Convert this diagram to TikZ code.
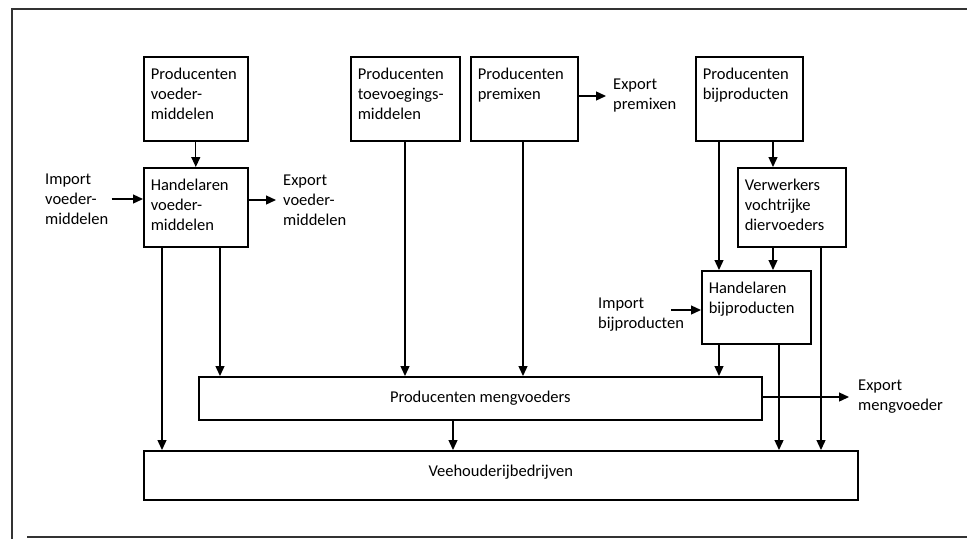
\documentclass[tikz,border=0pt]{standalone}
\usepackage{fontspec}
\setmainfont{Carlito}
\usetikzlibrary{arrows.meta}
\begin{document}
\begin{tikzpicture}[x=1pt,y=-1pt,
    font=\fontsize{16.5}{20}\selectfont,
    unit/.style={draw, line width=1.6pt, anchor=north west, align=left,
      inner xsep=7pt, inner ysep=0pt, text height=23pt},
    bar/.style={draw, line width=1.6pt, anchor=north west, inner sep=0pt},
    loose/.style={align=left, inner sep=0pt, anchor=west},
    flow/.style={-{Triangle[width=9pt,length=10pt]}, line width=1.3pt}]
  \useasboundingbox (0,0) rectangle (967,539);
  % frame
  \draw[line width=1.3pt, black!80] (967,9) -- (12,9) -- (12,539);
  \draw[line width=1.3pt, black!80] (27,537) -- (967,537);
  % boxes
  \node[unit, text width=90pt, text depth=61pt] (pv) at (143,56) {Producenten\\voeder-\\middelen};
  \node[unit, text width=90pt, text depth=56pt] (hv) at (143,167) {Handelaren\\voeder-\\middelen};
  \node[unit, text width=95pt, text depth=61pt] (pt) at (350,56) {Producenten\\toevoegings-\\middelen};
  \node[unit, text width=93pt, text depth=61pt] (pp) at (470,56) {Producenten\\premixen};
  \node[unit, text width=93pt, text depth=61pt] (pb) at (695,56) {Producenten\\bijproducten};
  \node[unit, text width=94pt, text depth=56pt] (vvd) at (737,167) {Verwerkers\\vochtrijke\\diervoeders};
  \node[unit, text width=95pt, text depth=50pt] (hb) at (701,270) {Handelaren\\bijproducten};
  \node[bar, minimum width=563pt, minimum height=43pt] (pm) at (198,376) {Producenten mengvoeders};
  \node[bar, minimum width=714pt, minimum height=49pt, text depth=9pt] (veeh) at (143,450) {Veehouderijbedrijven};
  % import / export
  \node[loose] (impv) at (45,199) {Import\\voeder-\\middelen};
  \node[loose] (expv) at (283,200) {Export\\voeder-\\middelen};
  \node[loose] (expp) at (613,96) {Export\\premixen};
  \node[loose] (impb) at (598,315) {Import\\bijproducten};
  \node[loose] (expm) at (858,397) {Export\\mengvoeder};
  \coordinate (ibtail) at (671,310);
  \draw[flow] ([xshift=3pt]impv.east) -- (impv.east -| hv.west);
  \draw[flow] (hv.east |- expv.west) -- ([xshift=-7pt]expv.west);
  \draw[flow] (pp.east |- expp.west) -- ([xshift=-7pt]expp.west);
  \draw[flow] (pm.east |- expm.west) -- ([xshift=-9pt]expm.west);
  \draw[flow] (ibtail) -- (ibtail -| hb.west);
  % flows downwards
  \draw[flow] (pv) -- (hv);
  \foreach \src/\dst/\xx in {hv/veeh/162, hv/pm/220, pt/pm/405, pp/pm/523,
      pb/hb/719, pb/vvd/773, vvd/hb/773, vvd/veeh/821,
      hb/pm/719, hb/veeh/779, pm/veeh/453}
    \draw[flow] (\src.south -| \xx,0) -- (\dst.north -| \xx,0);
\end{tikzpicture}
\end{document}
